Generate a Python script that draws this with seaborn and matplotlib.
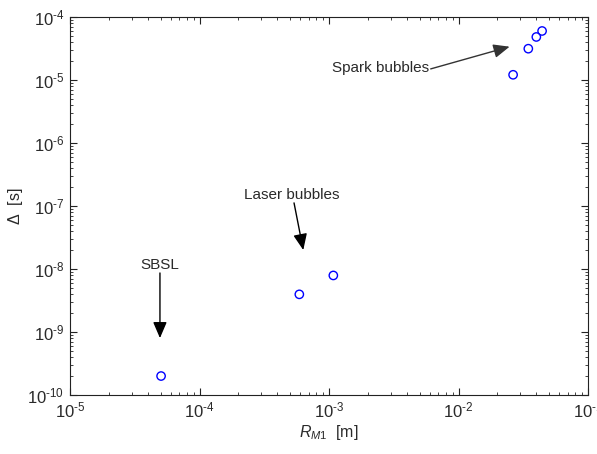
import matplotlib
matplotlib.use("Agg")
import matplotlib.pyplot as plt
import seaborn as sns
import pandas as pd
import numpy as np
from matplotlib.ticker import LogLocator, FuncFormatter, NullFormatter

# data
groups = ["SBSL", "Laser bubbles", "Laser bubbles",
          "Spark bubbles", "Spark bubbles", "Spark bubbles", "Spark bubbles"]
r_m1 = [5.05e-5, 5.9e-4, 1.08e-3, 0.0264, 0.0346, 0.0399, 0.0442]
delta = [2.0e-10, 3.96e-9, 7.9e-9, 1.21e-5, 3.14e-5, 4.82e-5, 6.0e-5]

df = pd.DataFrame({"group": groups, "R": r_m1, "Delta": delta})

sns.set_style("white")
plt.rcParams["font.family"] = ["Liberation Sans", "DejaVu Sans"]
plt.rcParams["mathtext.fontset"] = "custom"
plt.rcParams["mathtext.rm"] = "Liberation Sans"
plt.rcParams["mathtext.it"] = "Liberation Sans:italic"
plt.rcParams["mathtext.default"] = "regular"

fig = plt.figure(figsize=(5.97, 4.54), dpi=100)
ax = fig.add_axes([70 / 597, 59 / 454, 518 / 597, 378 / 454])

sns.scatterplot(data=df, x="R", y="Delta", ax=ax, marker="o", s=36,
                facecolor="none", edgecolor="#0000ff", linewidth=1.0,
                legend=False)

ax.set_xscale("log")
ax.set_yscale("log")
ax.set_xlim(1e-5, 1e-1)
ax.set_ylim(1e-10, 1e-4)

ax.xaxis.set_major_locator(LogLocator(base=10, numticks=20))
ax.yaxis.set_major_locator(LogLocator(base=10, numticks=20))
ax.xaxis.set_minor_locator(LogLocator(base=10, subs=np.arange(2, 10), numticks=100))
ax.yaxis.set_minor_locator(LogLocator(base=10, subs=np.arange(2, 10), numticks=100))
ax.xaxis.set_minor_formatter(NullFormatter())
ax.yaxis.set_minor_formatter(NullFormatter())


def fmt(v, pos):
    e = int(round(np.log10(v)))
    s = "\u2010%d" % (-e) if e < 0 else "%d" % e
    return r"$10^{%s}$" % s


ax.xaxis.set_major_formatter(FuncFormatter(fmt))
ax.yaxis.set_major_formatter(FuncFormatter(fmt))

txtc = "#2a2a2a"
ax.tick_params(which="both", direction="in", top=True, right=True,
               bottom=True, left=True,
               colors="#222222", labelcolor=txtc, labelsize=12)
ax.tick_params(which="major", length=5, width=0.8)
ax.tick_params(which="minor", length=2.5, width=0.6)
ax.tick_params(axis="x", pad=4)
ax.tick_params(axis="y", pad=4)
for s in ax.spines.values():
    s.set_color("#222222")
    s.set_linewidth(0.8)

ax.set_xlabel(r"$\mathit{R_{M1}}$  [m]", fontsize=11.5, color=txtc, labelpad=2)
ax.set_ylabel(r"$\Delta$  [s]", fontsize=11.5, color=txtc, labelpad=2)

ap = dict(arrowstyle="-|>,head_length=0.7,head_width=0.3", color="black",
          lw=1.0, mutation_scale=14, shrinkA=0, shrinkB=0)
tk = dict(ha="center", va="center", fontsize=11, color=txtc)

# SBSL
ax.text(4.95e-5, 1.16e-8, "SBSL", **tk)
ax.annotate("", xy=(4.95e-5, 8.0e-10), xytext=(4.95e-5, 8.65e-9), arrowprops=ap)
# Laser bubbles
ax.text(5.15e-4, 1.5e-7, "Laser bubbles", **tk)
ax.annotate("", xy=(6.33e-4, 2.0e-8), xytext=(5.37e-4, 1.12e-7), arrowprops=ap)
# Spark bubbles
ax.text(2.52e-3, 1.55e-5, "Spark bubbles", **tk)
ax.annotate("", xy=(0.0248, 3.38e-5), xytext=(6.1e-3, 1.5e-5),
            arrowprops=dict(ap, color="#333333"))

fig.savefig("out.png", dpi=100, facecolor="white")
